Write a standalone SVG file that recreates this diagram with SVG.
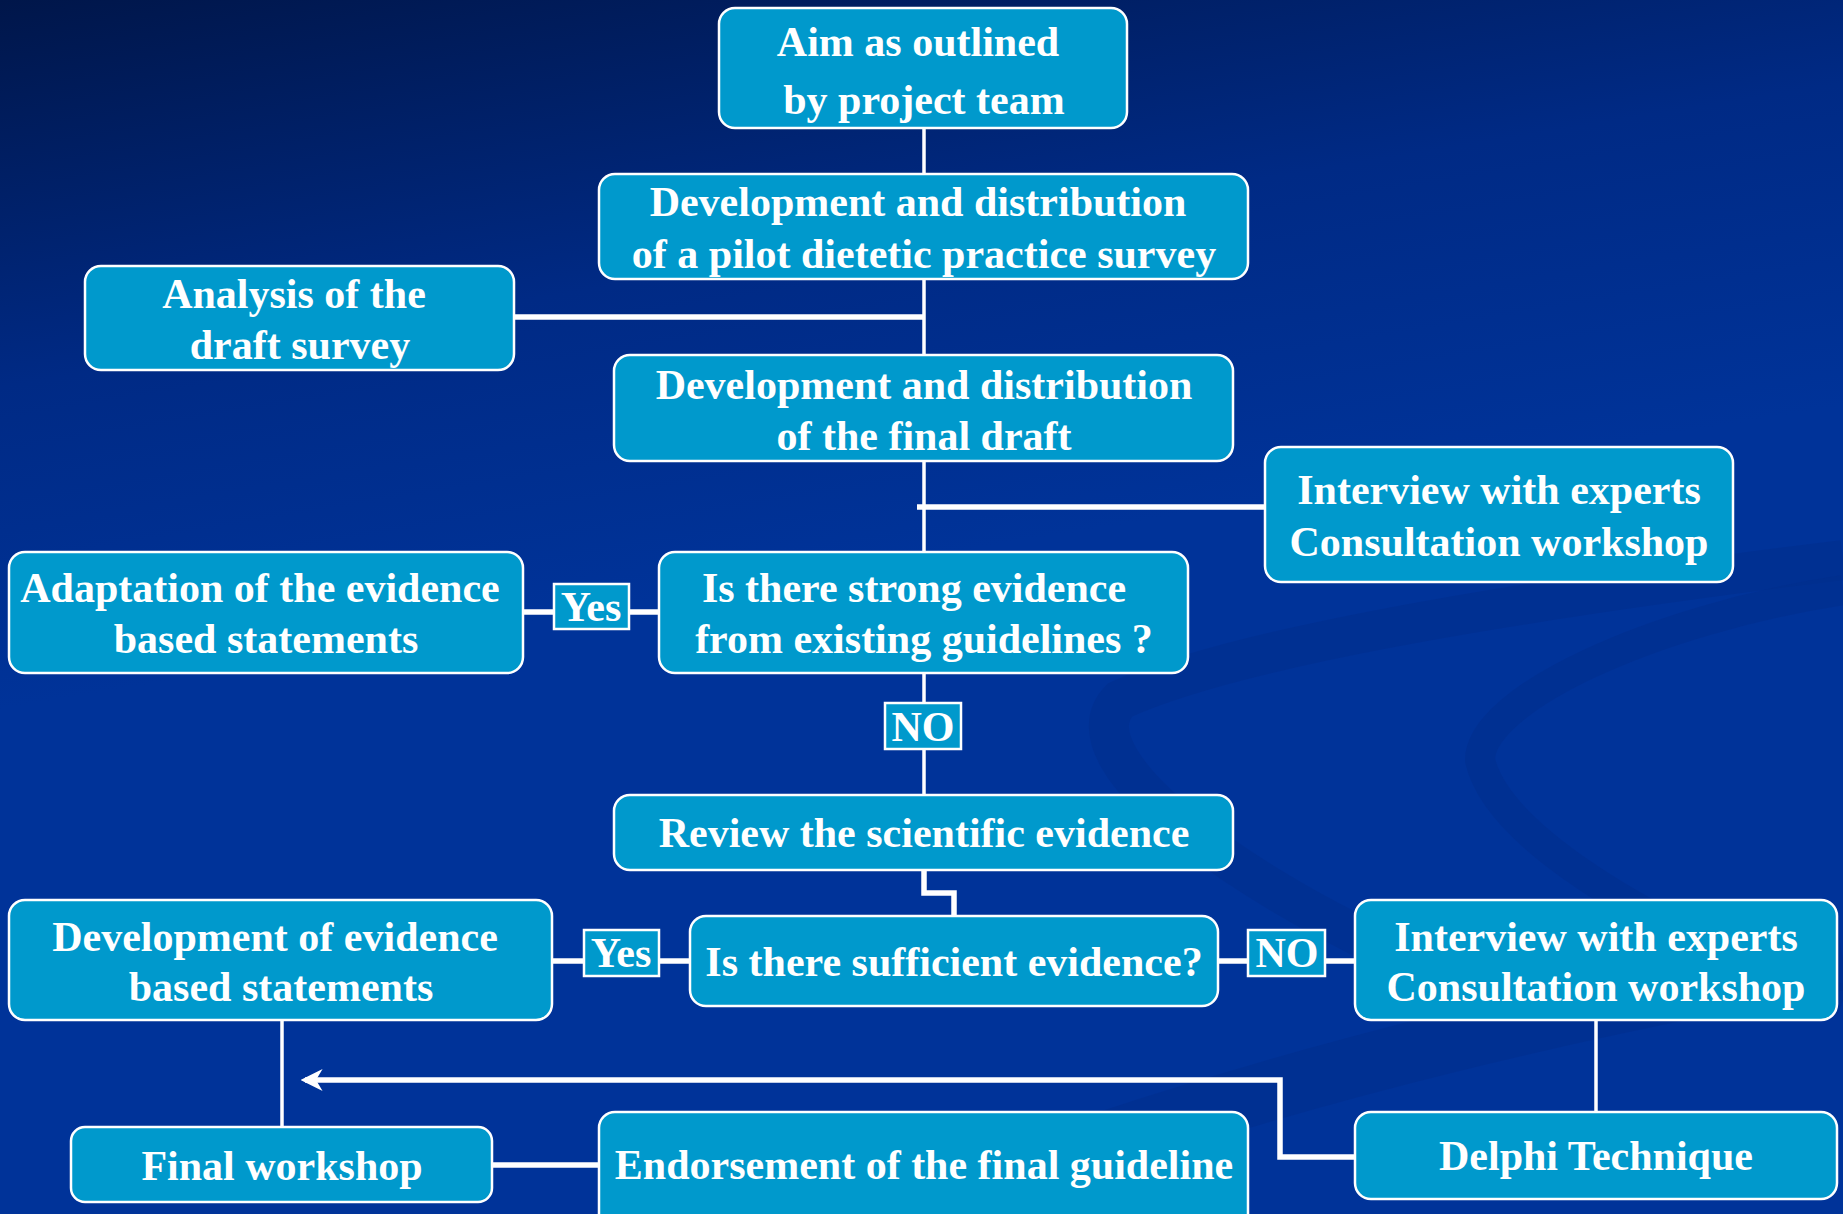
<svg xmlns="http://www.w3.org/2000/svg" width="1843" height="1214" viewBox="0 0 1843 1214">
<defs>
<linearGradient id="bg" x1="0" y1="0" x2="0.25" y2="1">
<stop offset="0" stop-color="#00164a"/>
<stop offset="0.3" stop-color="#002a85"/>
<stop offset="0.55" stop-color="#003399"/>
<stop offset="1" stop-color="#003399"/>
</linearGradient>
<marker id="arr" viewBox="0 0 10 10" refX="8" refY="5" markerWidth="4" markerHeight="4" orient="auto-start-reverse">
<path d="M0,0 L10,5 L0,10 L3,5 z" fill="#ffffff"/>
</marker>
<style>
.box{fill:#0099cc;stroke:#ffffff;stroke-width:2.5}
.lbl{fill:#0099cc;stroke:#ffffff;stroke-width:2.5}
.t{font-family:"Liberation Serif","Times New Roman",serif;font-weight:bold;font-size:42px;fill:#ffffff;text-anchor:middle}
.c{stroke:#ffffff;fill:none;stroke-width:3.5}
.ck{stroke:#ffffff;fill:none;stroke-width:5.5}
.sw{fill:none;stroke:#002d8c;opacity:0.5}
</style>
</defs>
<rect width="1843" height="1214" fill="url(#bg)"/>
<g id="swoosh">
<path class="sw" stroke-width="40" d="M1843,560 C1600,590 1250,640 1120,700 C1060,760 1250,900 1500,1000"/>
<path class="sw" stroke-width="30" d="M1843,590 C1650,620 1480,700 1480,760 C1500,850 1700,950 1843,1000"/>
<path class="sw" stroke-width="60" d="M900,1214 C1200,1100 1500,1020 1843,960"/>
</g>
<g id="connectors">
<line class="c" x1="924" y1="128" x2="924" y2="174"/>
<line class="c" x1="924" y1="279" x2="924" y2="355"/>
<line class="ck" x1="514" y1="317" x2="924" y2="317"/>
<line class="c" x1="924" y1="461" x2="924" y2="552"/>
<line class="ck" x1="917" y1="507" x2="1265" y2="507"/>
<line class="ck" x1="523" y1="612" x2="659" y2="612"/>
<line class="c" x1="924" y1="673" x2="924" y2="795"/>
<polyline class="ck" points="924,870 924,893 954,893 954,916"/>
<line class="ck" x1="552" y1="961" x2="690" y2="961"/>
<line class="ck" x1="1218" y1="961" x2="1355" y2="961"/>
<line class="c" x1="282" y1="1020" x2="282" y2="1127"/>
<line class="c" x1="1596" y1="1020" x2="1596" y2="1112"/>
<polyline class="ck" points="1355,1157 1280,1157 1280,1080 305,1080" marker-end="url(#arr)"/>
<line class="ck" x1="492" y1="1165" x2="599" y2="1165"/>
</g>
<g id="n-aim"><rect class="box" x="719" y="8" width="408" height="120" rx="16"/>
<text class="t" x="918" y="56">Aim as outlined</text><text class="t" x="924" y="114">by project team</text></g>
<g id="n-pilot"><rect class="box" x="599" y="174" width="649" height="105" rx="16"/>
<text class="t" x="918" y="216">Development and distribution</text><text class="t" x="924" y="268">of a pilot dietetic practice survey</text></g>
<g id="n-analysis"><rect class="box" x="85" y="266" width="429" height="104" rx="16"/>
<text class="t" x="294" y="308">Analysis of the</text><text class="t" x="300" y="359">draft survey</text></g>
<g id="n-final-draft"><rect class="box" x="614" y="355" width="619" height="106" rx="16"/>
<text class="t" x="924" y="399">Development and distribution</text><text class="t" x="924" y="450">of the final draft</text></g>
<g id="n-interview1"><rect class="box" x="1265" y="447" width="468" height="135" rx="16"/>
<text class="t" x="1499" y="504">Interview with experts</text><text class="t" x="1499" y="556">Consultation workshop</text></g>
<g id="n-adapt"><rect class="box" x="9" y="552" width="514" height="121" rx="16"/>
<text class="t" x="260" y="602">Adaptation of the evidence</text><text class="t" x="266" y="653">based statements</text></g>
<g id="l-yes1"><rect class="lbl" x="554" y="584" width="75" height="45"/><text class="t" x="591" y="621">Yes</text></g>
<g id="n-strong"><rect class="box" x="659" y="552" width="529" height="121" rx="16"/>
<text class="t" x="914" y="602">Is there strong evidence</text><text class="t" x="924" y="653">from existing guidelines ?</text></g>
<g id="l-no1"><rect class="lbl" x="885" y="703" width="76" height="46"/><text class="t" x="923" y="741">NO</text></g>
<g id="n-review"><rect class="box" x="614" y="795" width="619" height="75" rx="16"/>
<text class="t" x="924" y="847">Review the scientific evidence</text></g>
<g id="n-develop"><rect class="box" x="9" y="900" width="543" height="120" rx="16"/>
<text class="t" x="275" y="951">Development of evidence</text><text class="t" x="281" y="1001">based statements</text></g>
<g id="l-yes2"><rect class="lbl" x="584" y="930" width="75" height="46"/><text class="t" x="621" y="967">Yes</text></g>
<g id="n-sufficient"><rect class="box" x="690" y="916" width="528" height="90" rx="16"/>
<text class="t" x="954" y="976">Is there sufficient evidence?</text></g>
<g id="l-no2"><rect class="lbl" x="1248" y="930" width="77" height="46"/><text class="t" x="1287" y="967">NO</text></g>
<g id="n-interview2"><rect class="box" x="1355" y="900" width="482" height="120" rx="16"/>
<text class="t" x="1596" y="951">Interview with experts</text><text class="t" x="1596" y="1001">Consultation workshop</text></g>
<g id="n-finalws"><rect class="box" x="71" y="1127" width="421" height="75" rx="14"/>
<text class="t" x="282" y="1180">Final workshop</text></g>
<g id="n-endorse"><rect class="box" x="599" y="1112" width="649" height="120" rx="16"/>
<text class="t" x="924" y="1179">Endorsement of the final guideline</text></g>
<g id="n-delphi"><rect class="box" x="1355" y="1112" width="482" height="87" rx="16"/>
<text class="t" x="1596" y="1170">Delphi Technique</text></g>
</svg>
